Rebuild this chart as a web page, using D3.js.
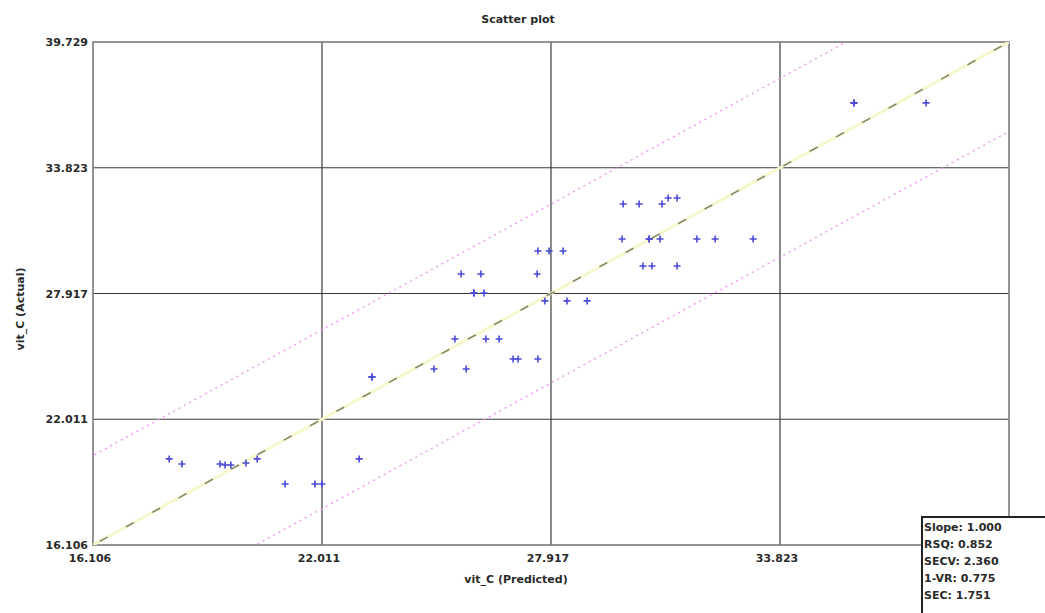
<html>
<head>
<meta charset="utf-8">
<title>Scatter plot</title>
<script src="https://d3js.org/d3.v7.min.js"></script>
<style type="text/css">
	body { margin: 0; background: #fff; }
	text { font-family: "DejaVu Sans", sans-serif; font-weight: bold; fill: #2a2a2a; }
</style>
</head>
<body>
<div id="chart"></div>
<script type="text/javascript">

	// values
	const predicted = [18.07, 18.40, 19.38, 19.51, 19.66, 20.05, 20.34, 21.06, 21.83, 22.01,
		22.97, 23.30, 23.30, 24.90, 25.44, 25.73, 26.24, 26.58, 26.94, 27.07, 27.58,
		25.60, 26.11, 27.56, 25.93, 25.93, 26.19, 27.58, 27.87, 28.23, 27.76, 28.33, 28.85,
		29.78, 30.19, 30.78, 30.94, 31.17, 29.75, 30.45, 30.45, 30.73, 31.68, 32.15, 33.13,
		30.29, 30.52, 31.17, 35.73, 35.73, 37.59];
	const actual = [20.15, 19.91, 19.91, 19.86, 19.86, 19.96, 20.15, 18.97, 18.97, 18.97,
		20.15, 24.00, 24.00, 24.37, 25.78, 24.37, 25.78, 25.78, 24.84, 24.84, 24.84,
		28.83, 28.83, 28.83, 27.94, 27.94, 27.94, 29.91, 29.91, 29.91, 27.57, 27.57, 27.57,
		32.12, 32.12, 32.12, 32.40, 32.40, 30.48, 30.48, 30.48, 30.48, 30.48, 30.48, 30.48,
		29.21, 29.21, 29.21, 36.87, 36.87, 36.87];

	const ticks = [16.106, 22.011, 27.917, 33.823, 39.729];
	const band = 4.2;
	const stats = ["Slope: 1.000", "RSQ: 0.852", "SECV: 2.360", "1-VR: 0.775", "SEC: 1.751"];

	const width = 1045, height = 613;
	const pl = 93, pr = 1009, pt = 42, pb = 545;

	const svg = d3.select("#chart").append("svg")
		.attr("width", width)
		.attr("height", height);

	const x = d3.scaleLinear().domain([ticks[0], ticks[4]]).range([pl, pr]);
	const y = d3.scaleLinear().domain([ticks[0], ticks[4]]).range([pb, pt]);

	// clip for the reference lines
	svg.append("clipPath").attr("id", "plot")
		.append("rect")
		.attr("x", pl).attr("y", pt)
		.attr("width", pr - pl).attr("height", pb - pt);

	// grid
	svg.append("g").selectAll("line")
		.data(ticks.slice(1, 4))
		.enter().append("line")
		.attr("x1", d => x(d)).attr("x2", d => x(d))
		.attr("y1", pt).attr("y2", pb)
		.attr("stroke", "#3a3a3a").attr("stroke-width", 1.2);

	svg.append("g").selectAll("line")
		.data(ticks.slice(1, 4))
		.enter().append("line")
		.attr("x1", pl).attr("x2", pr)
		.attr("y1", d => y(d)).attr("y2", d => y(d))
		.attr("stroke", "#3a3a3a").attr("stroke-width", 1.2);

	svg.append("rect")
		.attr("x", pl).attr("y", pt)
		.attr("width", pr - pl).attr("height", pb - pt)
		.attr("fill", "none")
		.attr("stroke", "#7a7a7a").attr("stroke-width", 1.6);

	const lines = svg.append("g").attr("clip-path", "url(#plot)");
	const lo = ticks[0] - 10, hi = ticks[4] + 10;

	// pink bands
	[band, -band].forEach(function(off) {
		lines.append("line")
			.attr("x1", x(lo)).attr("y1", y(lo + off))
			.attr("x2", x(hi)).attr("y2", y(hi + off))
			.attr("stroke", "#eb9aeb").attr("stroke-width", 1.4)
			.attr("stroke-dasharray", "2,4");
	});

	// 1:1 line
	lines.append("line")
		.attr("x1", x(lo)).attr("y1", y(lo))
		.attr("x2", x(hi)).attr("y2", y(hi))
		.attr("stroke", "#f7f7cc").attr("stroke-width", 3);
	lines.append("line")
		.attr("x1", x(lo)).attr("y1", y(lo))
		.attr("x2", x(hi)).attr("y2", y(hi))
		.attr("stroke", "#7a7a6a").attr("stroke-width", 1.4)
		.attr("stroke-dasharray", "9,21");

	// points
	const pts = svg.append("g")
		.attr("stroke", "#4a4ad8").attr("stroke-width", 1.6);
	pts.selectAll("path")
		.data(predicted.map((p, i) => [p, actual[i]]))
		.enter().append("path")
		.attr("d", d => {
			const px = x(d[0]), py = y(d[1]);
			return "M" + (px - 3.5) + "," + py + "H" + (px + 3.5) + "M" + px + "," + (py - 3.5) + "V" + (py + 3.5);
		});

	// tick labels (the last x label sits under the stats box)
	svg.append("g").selectAll("text")
		.data(ticks.slice(0, 4))
		.enter().append("text")
		.attr("x", d => x(d) - 3)
		.attr("y", 562)
		.attr("text-anchor", "middle")
		.style("font-size", "11px")
		.text(d => d.toFixed(3));

	svg.append("g").selectAll("text")
		.data(ticks)
		.enter().append("text")
		.attr("x", 88)
		.attr("y", d => y(d) + 4)
		.attr("text-anchor", "end")
		.style("font-size", "11px")
		.text(d => d.toFixed(3));

	svg.append("text")
		.attr("x", 518).attr("y", 23)
		.attr("text-anchor", "middle")
		.style("font-size", "11px")
		.text("Scatter plot");

	svg.append("text")
		.attr("x", 516).attr("y", 583)
		.attr("text-anchor", "middle")
		.style("font-size", "11px")
		.text("vit_C (Predicted)");

	svg.append("text")
		.attr("transform", "translate(24,309) rotate(-90)")
		.attr("text-anchor", "middle")
		.style("font-size", "11px")
		.text("vit_C (Actual)");

	// stats box
	const box = svg.append("g");
	box.append("rect")
		.attr("x", 922).attr("y", 517)
		.attr("width", 140).attr("height", 110)
		.attr("fill", "#fff")
		.attr("stroke", "#222").attr("stroke-width", 2);
	box.selectAll("text")
		.data(stats)
		.enter().append("text")
		.attr("x", 924)
		.attr("y", (d, i) => 531 + i * 17)
		.style("font-size", "11px")
		.text(d => d);

</script>
</body>
</html>
